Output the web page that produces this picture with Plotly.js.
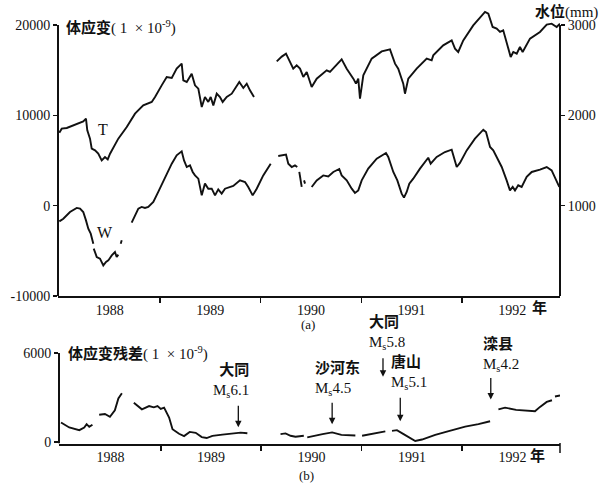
<!DOCTYPE html>
<html>
<head>
<meta charset="utf-8">
<script src="https://cdn.plot.ly/plotly-3.0.1.min.js"></script>
<style>html,body{margin:0;padding:0;background:#fff;}#chart{width:609px;height:485px;}</style>
</head>
<body>
<div id="chart"></div>
<script>
// ---- Data (decimal years) ----
// (a) T: body strain (left axis, 1e-9); null = gap in record
const tYears = [1988.0,1988.024,1988.074,1988.123,1988.189,1988.238,1988.265,1988.278,1988.305,1988.322,1988.355,1988.387,1988.421,1988.454,1988.481,1988.504,1988.586,1988.67,1988.752,1988.834,1988.918,1988.951,1989.017,1989.067,1989.117,1989.166,1989.216,1989.232,1989.266,1989.315,1989.348,1989.381,1989.415,1989.447,1989.48,1989.504,1989.53,1989.564,1989.596,1989.623,1989.663,1989.713,1989.788,1989.828,1989.862,1989.894,1989.934,
  1990.05,
  1990.16,1990.21,1990.252,1990.292,1990.324,1990.358,1990.391,1990.424,1990.458,1990.507,1990.557,1990.656,1990.689,1990.805,1990.855,1990.921,1990.947,1990.97,1990.987,1991.02,1991.103,1991.203,1991.285,1991.335,1991.367,1991.417,1991.434,1991.467,1991.55,1991.65,1991.699,1991.715,1991.814,1991.898,1991.931,1991.963,1992.013,1992.112,1992.229,1992.262,1992.305,1992.345,1992.378,1992.41,1992.46,1992.484,1992.51,1992.544,1992.576,1992.603,1992.676,1992.775,1992.842,1992.891,1992.941,1992.974];
const tStrain = [8081,8524,8601,8823,9188,9332,9631,8336,7417,6310,6122,5756,5015,5391,5125,5756,7417,8712,10184,11103,11480,12033,13317,14247,14136,15166,15719,13871,13694,14613,13317,12952,10926,12033,11480,12033,11103,12398,12033,11480,12033,12398,13694,13029,13505,12764,12033,
  null,
  15974,16500,16826,15908,15166,15531,15166,14247,14801,13140,14059,14978,14801,16195,15166,14059,13505,14059,11845,14424,16273,17081,17303,15719,15166,13505,12398,14059,15166,16273,16085,16638,17745,18299,17380,17015,18299,19959,21443,21254,19782,19594,19229,19406,17192,16461,17015,16826,17568,17015,18487,19229,20037,20147,19782,20147];

// (a) W: water level (right axis, mm)
const wYears = [1988.0,1988.04,1988.106,1988.173,1988.206,1988.238,1988.265,1988.288,1988.312,1988.338,
  1988.34,
  1988.342,1988.372,1988.404,1988.437,1988.464,1988.487,1988.521,1988.553,1988.57,1988.586,
  1988.6,
  1988.61,1988.62,
  1988.67,
  1988.719,1988.752,1988.785,1988.818,1988.851,1988.884,1988.934,1988.983,1989.05,1989.117,1989.166,1989.216,1989.239,1989.266,1989.298,1989.325,1989.348,1989.381,1989.415,1989.447,1989.48,1989.514,1989.547,1989.579,1989.613,1989.646,1989.728,1989.795,1989.845,1989.877,1989.921,1989.961,1990.026,1990.1,
  1990.14,
  1990.175,1990.252,1990.275,1990.309,1990.341,1990.364,
  1990.374,
  1990.384,1990.408,
  1990.42,
  1990.431,1990.441,
  1990.47,
  1990.507,1990.557,1990.622,1990.672,1990.722,1990.781,1990.805,1990.855,1990.905,1990.937,1990.97,1991.004,1991.069,1991.153,1991.245,1991.268,1991.318,1991.358,1991.401,1991.424,1991.451,1991.477,1991.516,1991.583,1991.665,1991.689,1991.749,1991.831,1991.898,1991.948,1991.98,1992.047,1992.129,1992.212,1992.239,1992.279,1992.311,1992.345,1992.395,1992.444,1992.477,1992.504,1992.527,1992.559,1992.593,1992.643,1992.693,1992.775,1992.842,1992.891,1992.924,1992.967];
const wLevel = [826,856,930,975,967,930,837,745,690,579,
  null,
  524,432,413,339,377,394,450,487,432,458,
  null,
  579,616,
  null,
  812,893,967,986,975,986,1041,1152,1318,1465,1557,1601,1501,1428,1446,1373,1335,1299,1114,1244,1188,1188,1114,1180,1133,1188,1218,1280,1262,1207,1114,1188,1335,1465,
  null,
  1550,1565,1465,1428,1446,1428,
  null,
  1373,1207,
  null,
  1280,1244,
  null,
  1207,1280,1335,1324,1373,1406,1335,1280,1188,1141,1169,1280,1410,1520,1583,1539,1373,1280,1133,1089,1152,1244,1299,1410,1531,1465,1539,1594,1620,1428,1473,1612,1742,1841,1816,1650,1612,1539,1428,1280,1169,1207,1169,1225,1207,1318,1373,1399,1428,1391,1318,1207];

// (b) body strain residual (1e-9)
const rYears = [1988.007,1988.089,1988.189,1988.238,1988.262,1988.288,1988.32,
  1988.35,
  1988.387,1988.444,1988.494,1988.543,1988.578,1988.613,
  1988.67,
  1988.732,1988.812,1988.884,1988.931,1988.968,1989.0,1989.033,1989.083,1989.117,1989.182,1989.232,1989.288,1989.348,1989.408,1989.457,1989.514,1989.613,1989.713,1989.795,1989.862,
  1990.0,
  1990.192,1990.242,1990.292,1990.341,1990.424,
  1990.44,
  1990.458,1990.523,1990.61,1990.706,1990.798,1990.937,
  1990.97,
  1991.004,1991.086,1991.186,1991.235,
  1991.27,
  1991.302,1991.351,1991.417,1991.484,1991.533,1991.6,1991.732,1991.848,1991.941,1992.03,1992.162,1992.278,
  1992.32,
  1992.361,1992.427,1992.537,1992.626,1992.725,1992.775,1992.842,1992.894,
  1992.91,
  1992.924,1992.974];
const rResidual = [1314,980,800,980,1201,1020,1167,
  null,
  1834,1888,1701,2134,2935,3282,
  null,
  2648,2201,2421,2335,2421,2234,2314,1647,867,554,400,680,620,334,267,414,500,567,634,587,
  null,
  534,580,420,354,420,
  null,
  313,420,534,647,480,440,
  null,
  420,534,647,714,
  null,
  754,800,534,247,67,167,487,700,867,1034,1201,1401,
  null,
  2201,2314,2168,2114,2068,2368,2701,2815,
  null,
  3068,3135];

// Tick labels
const yearLabels = ['1988','1989','1990','1991','1992'];
const yearCenters = [1988.5,1989.5,1990.5,1991.5,1992.5];
const yearBounds = [1989,1990,1991,1992];
const strainTicks = [-10000,0,10000,20000];
const strainTickText = ['-10000','0','10000','20000'];
const levelTicks = [1000,2000,3000];
const residualTicks = [0,6000];

// Earthquakes
const eventNames = ['大同','沙河东','大同','唐山','滦县'];
const eventMags = ['6.1','4.5','5.8','5.1','4.2'];
const eventYears = [1989.772,1990.706,1991.212,1991.384,1992.285];

// ---- Styling / positions ----
const FONT = "'Liberation Serif','Noto Sans CJK SC',serif";
const W = 609, H = 485;
const px = v => v / W, py = v => 1 - v / H;
const NB = '\u00a0';
const arrowTip = [1000,1200,4400,1400,2868];      // y3 units
const arrowLen = [23,23,20,25,23];                // px
const labelY = [2668,2801,5936,3202,4469];         // y3 units (bottom of label)
const labelShift = [13,-19,-16,-11,-10];           // px
const labelAnchor = ['right','left','left','left','left'];

const line = {color:'#111', width:1.9};
const traces = [
  {x:tYears, y:tStrain, type:'scatter', mode:'lines', line:line, xaxis:'x', yaxis:'y', connectgaps:false, hoverinfo:'skip'},
  {x:wYears, y:wLevel, type:'scatter', mode:'lines', line:line, xaxis:'x', yaxis:'y2', connectgaps:false, hoverinfo:'skip'},
  {x:rYears, y:rResidual, type:'scatter', mode:'lines', line:line, xaxis:'x2', yaxis:'y3', connectgaps:false, hoverinfo:'skip'}
];

const xCommon = {
  range:[1987.987,1992.974], showline:true, linewidth:2, linecolor:'#111',
  tickmode:'array', tickvals:yearCenters, ticktext:yearLabels, ticks:'',
  tickfont:{family:FONT, size:14, color:'#111'}, showgrid:false, zeroline:false,
  minor:{tickmode:'array', tickvals:yearBounds, ticks:'outside', ticklen:5, tickwidth:1.5, tickcolor:'#111', showgrid:false}
};
const yCommon = {
  showline:false, showgrid:false, zeroline:false, ticks:'outside', ticklen:4, tickwidth:1.5,
  tickcolor:'#111', tickfont:{family:FONT, size:14, color:'#111'}, tickmode:'array'
};

function note(text, x, y, size, extra) {
  return Object.assign({text:text, xref:'paper', yref:'paper', x:px(x), y:py(y), xanchor:'center', yanchor:'middle',
    showarrow:false, font:{family:FONT, size:size, color:'#111'}}, extra || {});
}
const unitText = '(' + NB + '1' + NB + NB + '×' + NB + '10<sup>-9</sup>)';
const annotations = [
  note('<b>体应变</b>' + unitText, 64, 27, 15, {xanchor:'left'}),
  note('<b>水位</b>(mm)', 566, 12, 15),
  note('T', 103, 130, 16),
  note('W', 105, 232, 16),
  note('(a)', 308, 324, 13),
  note('(b)', 306, 475, 13),
  note('<b>年</b>', 539, 307, 15),
  note('<b>年</b>', 537, 455, 15),
  note('<b>体应变残差</b>' + unitText, 66, 353, 15, {xanchor:'left'})
];
eventNames.forEach((name, i) => {
  annotations.push({x:eventYears[i], y:arrowTip[i], xref:'x2', yref:'y3', text:'', showarrow:true,
    ax:0, ay:-arrowLen[i], arrowhead:2, arrowsize:1, arrowwidth:1.3, arrowcolor:'#111'});
  annotations.push({x:eventYears[i], y:labelY[i], xref:'x2', yref:'y3', xshift:labelShift[i],
    xanchor:labelAnchor[i], yanchor:'bottom', align:labelAnchor[i], showarrow:false,
    text:'<b>' + name + '</b><br>M<sub>s</sub>' + eventMags[i], font:{family:FONT, size:15, color:'#111'}});
});

const shapes = [
  {type:'line', xref:'x domain', yref:'y', x0:0, x1:0, y0:strainTicks[0], y1:strainTicks[3], line:{color:'#111', width:2}},
  {type:'line', xref:'x domain', yref:'y2', x0:1, x1:1, y0:0, y1:levelTicks[2], line:{color:'#111', width:2}},
  {type:'line', xref:'x2 domain', yref:'y3', x0:0, x1:0, y0:-100, y1:residualTicks[1], line:{color:'#111', width:2}},
  {type:'line', xref:'x2 domain', yref:'paper', x0:1, x1:1, y0:py(453), y1:py(443), line:{color:'#111', width:1.5}}
];

const layout = {
  width:W, height:H, margin:{l:0, r:0, t:0, b:0}, paper_bgcolor:'#fff', plot_bgcolor:'rgba(0,0,0,0)',
  showlegend:false, font:{family:FONT, color:'#111'},
  xaxis:Object.assign({}, xCommon, {domain:[px(58), px(560)], anchor:'y'}),
  xaxis2:Object.assign({}, xCommon, {domain:[px(59), px(560)], anchor:'y3'}),
  yaxis:Object.assign({}, yCommon, {domain:[py(296), py(6.93)], range:[-10000,22000], tickvals:strainTicks, ticktext:strainTickText, anchor:'x'}),
  yaxis2:Object.assign({}, yCommon, {overlaying:'y', side:'right', anchor:'x', range:[0,3200], tickvals:levelTicks}),
  yaxis3:Object.assign({}, yCommon, {domain:[py(443.5), py(350)], range:[-100,6200], tickvals:residualTicks, anchor:'x2'}),
  annotations:annotations, shapes:shapes
};

Plotly.newPlot('chart', traces, layout, {staticPlot:true, displayModeBar:false});
</script>
</body>
</html>
